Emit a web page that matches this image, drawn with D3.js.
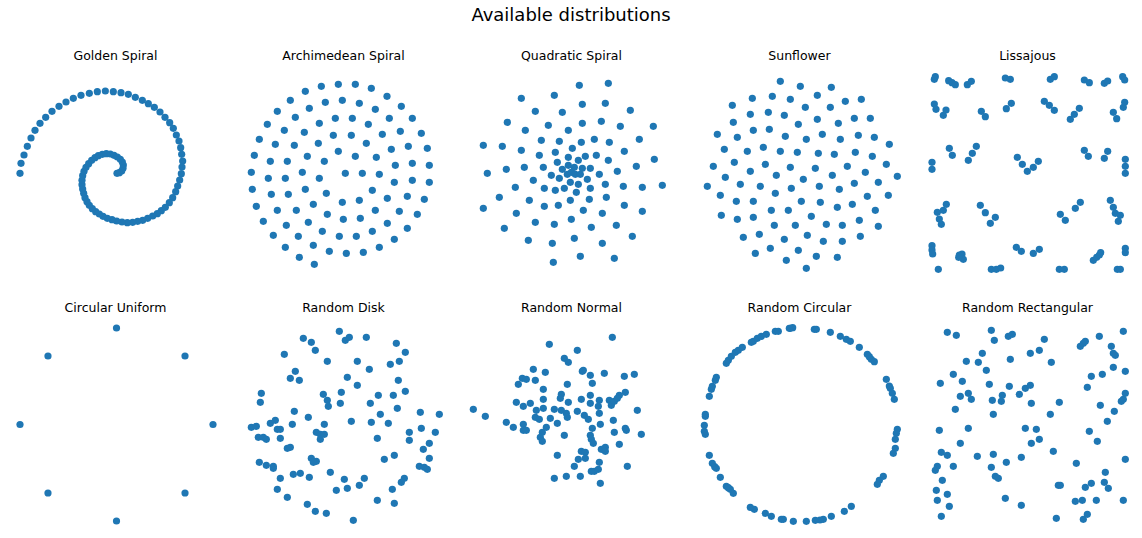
<!DOCTYPE html>
<html>
<head>
<meta charset="utf-8">
<script src="https://cdn.jsdelivr.net/npm/d3@7"></script>
<style>
	body{margin:0;background:#fff;}
	svg{display:block;}
</style>
</head>
<body>
<div id="chartDiv"></div>
<script>
// readings taken off the figure, in reading units (3 units = 1 px of the original)
var titulo="Available distributions";
var nombres=["Golden Spiral","Archimedean Spiral","Quadratic Spiral","Sunflower","Lissajous",
	"Circular Uniform","Random Disk","Random Normal","Random Circular","Random Rectangular"];

var goldenSpiral=[[30,295],[33,265],[42,240],[52,214],[63,189],[75,166],[90,145],[107,127],[126,109],[147,94],
	[168,81],[190,70],[213,61],[238,55],[262,50],[286,48],[310,50],[333,53],[355,58],[376,67],[397,76],[415,86],
	[433,97],[450,111],[465,127],[479,143],[490,160],[499,180],[507,198],[512,218],[515,238],[518,258],[516,276],
	[514,296],[509,315],[503,333],[497,350],[488,368],[478,383],[466,397],[454,407],[442,416],[428,423],[413,430],
	[398,436],[383,439],[368,442],[352,443],[336,441],[320,438],[306,434],[292,430],[279,424],[268,417],[257,410],
	[247,401],[238,391],[231,380],[225,368],[221,355],[218,342],[216,329],[216,316],[218,302],[222,289],[228,277],
	[236,266],[245,256],[255,248],[265,242],[277,238],[289,236],[301,237],[312,241],[322,246],[331,253],[337,261],
	[340,270],[339,280],[335,288],[328,293],[321,295]];

var archimedean=[[295,28],[346,28],[244,34],[394,40],[196,49],[441,64],[151,76],[256,82],[307,76],[358,85],
	[484,94],[112,109],[208,100],[406,103],[166,127],[286,130],[337,130],[448,130],[517,130],[82,148],[238,145],
	[385,148],[133,166],[193,172],[280,181],[334,181],[427,178],[481,169],[544,175],[58,193],[106,208],[163,211],
	[235,205],[379,205],[505,214],[454,223],[562,220],[43,241],[202,244],[295,229],[346,244],[409,247],[91,259],
	[142,259],[253,259],[466,271],[517,265],[568,271],[34,292],[187,292],[316,295],[367,295],[418,298],[85,310],
	[136,310],[238,310],[463,322],[517,316],[568,322],[37,343],[196,343],[397,346],[94,358],[145,358],[259,355],
	[442,370],[502,364],[553,373],[49,394],[220,388],[307,382],[358,376],[112,406],[169,406],[406,406],[478,409],
	[532,418],[70,439],[262,418],[310,433],[361,430],[139,451],[205,442],[442,445],[502,460],[100,481],[175,484],
	[247,469],[298,484],[349,484],[397,469],[136,517],[220,511],[418,517],[463,493],[178,547],[268,529],[319,535],
	[370,532],[223,568]];

var quadratic=[[322,31],[409,25],[148,70],[247,61],[331,88],[400,85],[475,106],[190,109],[271,112],[106,142],
	[229,151],[331,145],[388,139],[445,154],[544,154],[160,166],[289,166],[208,196],[262,199],[328,202],[367,193],
	[412,202],[502,193],[34,211],[91,214],[148,226],[301,220],[250,232],[202,241],[289,247],[319,256],[340,244],
	[373,241],[457,229],[547,253],[409,256],[256,262],[103,283],[157,277],[214,277],[271,283],[289,271],[307,277],
	[331,280],[355,280],[46,295],[238,301],[262,310],[286,298],[298,292],[310,298],[325,298],[346,313],[382,298],
	[436,289],[493,274],[184,316],[295,322],[319,328],[400,328],[454,334],[511,337],[571,331],[130,337],[217,340],
	[250,346],[277,340],[313,352],[355,340],[82,367],[172,376],[295,376],[352,373],[403,367],[34,400],[217,394],
	[259,391],[334,406],[391,415],[457,391],[511,409],[133,415],[190,442],[247,448],[298,433],[358,457],[433,451],
	[97,460],[169,496],[241,505],[307,490],[391,505],[481,484],[244,562],[325,544],[427,550]];

var sunflower=[[241,28],[301,43],[394,46],[157,79],[217,73],[271,82],[352,70],[436,88],[484,82],[97,100],
	[151,127],[205,121],[253,130],[316,106],[391,106],[100,151],[295,157],[352,142],[415,154],[463,139],[511,139],
	[52,187],[112,196],[160,175],[208,172],[256,193],[319,202],[367,187],[421,202],[475,190],[523,196],[568,217],
	[73,232],[142,238],[190,226],[241,238],[292,241],[355,244],[403,247],[466,241],[517,253],[40,283],[103,271],
	[151,298],[196,277],[271,286],[346,289],[442,283],[496,301],[559,277],[76,316],[121,337],[181,343],[229,310],
	[310,322],[397,310],[463,334],[535,331],[592,313],[22,343],[61,370],[109,388],[160,388],[226,364],[274,349],
	[358,343],[418,352],[304,388],[361,391],[412,406],[457,397],[502,373],[565,370],[64,430],[112,442],[160,436],
	[214,415],[265,415],[334,433],[526,415],[223,460],[286,460],[379,457],[427,460],[478,445],[535,463],[130,496],
	[178,487],[253,502],[322,490],[370,508],[427,508],[481,493],[166,544],[211,529],[295,535],[349,553],[412,556],
	[259,565],[319,589]];

var lissajous=[[25,28],[28,20],[68,32],[78,38],[88,44],[124,44],[136,34],[238,24],[253,28],[373,28],[385,20],
	[475,30],[490,38],[535,40],[545,33],[590,20],[596,30],[25,102],[30,118],[52,136],[60,120],[166,124],[178,140],
	[241,116],[256,100],[355,94],[370,106],[385,121],[433,148],[445,133],[460,115],[562,127],[572,146],[592,112],
	[596,97],[70,235],[79,256],[127,271],[139,250],[151,229],[18,277],[18,298],[274,262],[289,283],[304,304],
	[322,292],[337,274],[475,241],[487,259],[535,265],[545,244],[598,268],[598,289],[598,310],[34,427],[52,421],
	[61,403],[40,447],[46,463],[163,406],[178,428],[208,442],[193,460],[403,433],[418,451],[448,415],[463,397],
	[553,391],[562,412],[568,430],[583,436],[577,454],[18,527],[18,540],[20,552],[100,555],[108,552],[112,568],
	[98,562],[271,532],[286,544],[322,550],[340,538],[502,571],[512,562],[520,555],[524,548],[598,535],[598,548],
	[37,598],[196,598],[211,598],[224,594],[400,598],[415,598],[574,598],[583,598]];

// this one is in units of the circle radius
var circularUniform=[[1,0],[0.71,0.71],[0,1],[-0.71,0.71],[-1,0],[-0.71,-0.71],[0,-1],[0.71,-0.71]];

var randomDisk=[[298,28],[190,49],[214,61],[316,55],[328,46],[379,46],[469,64],[226,85],[133,97],[496,91],
	[262,118],[352,118],[451,127],[478,118],[388,142],[166,148],[151,169],[178,175],[322,166],[475,175],[352,190],
	[64,214],[250,217],[304,211],[415,220],[460,220],[496,208],[61,241],[262,235],[265,253],[301,244],[391,244],
	[472,259],[163,268],[421,277],[541,271],[598,277],[205,286],[334,298],[394,301],[445,304],[91,304],[106,295],
	[34,316],[49,313],[112,322],[121,322],[157,307],[253,307],[544,319],[508,331],[586,331],[229,331],[241,337],
	[253,337],[241,352],[55,346],[70,346],[79,352],[121,349],[412,349],[508,355],[568,364],[550,382],[142,379],
	[151,376],[214,409],[229,418],[220,421],[433,412],[463,400],[568,409],[58,421],[79,430],[100,433],[100,439],
	[538,433],[553,436],[562,442],[271,451],[121,469],[160,457],[181,454],[208,466],[313,472],[373,469],[493,469],
	[484,481],[112,502],[289,505],[322,499],[358,490],[457,502],[142,526],[412,535],[463,544],[202,547],[226,568],
	[259,574],[340,595]];

var randomNormal=[[445,22],[256,43],[340,61],[301,85],[313,97],[208,118],[244,127],[355,124],[358,121],[379,136],
	[421,130],[481,139],[511,133],[175,145],[187,148],[214,151],[163,163],[310,163],[385,160],[238,178],[292,193],
	[289,205],[379,196],[466,196],[484,187],[157,217],[178,229],[199,220],[238,208],[313,217],[352,208],[379,220],
	[406,211],[403,229],[436,211],[442,226],[451,214],[460,205],[217,241],[238,235],[271,238],[292,241],[307,250],
	[340,244],[361,256],[406,250],[520,241],[28,238],[64,259],[214,262],[226,268],[259,265],[310,262],[373,268],
	[448,271],[127,277],[280,280],[409,283],[148,292],[178,283],[178,301],[187,301],[247,292],[385,295],[451,307],
	[484,295],[487,301],[532,313],[235,307],[229,322],[235,334],[301,316],[379,316],[382,328],[388,340],[466,343],
	[412,358],[424,352],[424,364],[352,364],[364,367],[280,376],[343,388],[364,385],[406,397],[490,409],[331,409],
	[403,418],[391,424],[382,424],[271,445],[307,439],[349,439],[409,460]];

var randomCircular=[[283,25],[290,23],[355,28],[361,28],[403,37],[433,49],[451,58],[463,64],[490,82],[514,103],
	[520,110],[526,118],[535,125],[571,178],[580,198],[583,205],[589,220],[595,238],[604,328],[601,340],[598,358],
	[598,385],[592,400],[562,469],[550,481],[544,493],[466,559],[445,574],[406,589],[382,598],[372,600],[358,601],
	[331,604],[292,604],[262,598],[256,598],[226,589],[208,580],[175,568],[163,562],[112,520],[103,508],[97,503],
	[91,499],[73,472],[61,445],[56,440],[49,430],[40,406],[28,343],[25,334],[25,316],[28,289],[28,283],[40,229],
	[46,208],[49,199],[58,181],[61,172],[91,130],[97,121],[106,109],[118,97],[127,91],[139,82],[166,67],[172,64],
	[184,55],[196,49],[211,43],[238,34],[247,34],[280,25]];

var randomRect=[[64,31],[91,40],[196,25],[205,55],[247,43],[259,37],[355,52],[520,43],[592,28],[463,73],
	[472,64],[478,58],[556,73],[562,94],[568,100],[169,94],[121,118],[157,121],[253,112],[313,94],[340,85],
	[376,121],[181,145],[82,157],[43,184],[109,178],[190,187],[250,193],[298,199],[313,190],[280,217],[496,163],
	[529,157],[562,136],[598,148],[484,196],[103,223],[127,214],[136,232],[229,220],[226,238],[199,235],[316,244],
	[400,241],[598,214],[586,238],[592,232],[523,250],[565,268],[88,262],[202,277],[373,277],[544,298],[40,325],
	[127,319],[298,319],[331,322],[340,352],[316,364],[103,364],[490,328],[514,358],[46,391],[64,400],[154,403],
	[202,397],[241,421],[286,406],[382,388],[598,412],[34,433],[28,445],[82,433],[196,436],[208,463],[217,469],
	[451,424],[538,451],[49,475],[397,490],[403,490],[478,496],[496,484],[535,481],[547,499],[31,505],[64,517],
	[34,535],[238,529],[286,550],[448,538],[469,535],[511,535],[592,535],[70,553],[46,583],[391,589],[472,592],
	[484,577]];

var series=[goldenSpiral,archimedean,quadratic,sunflower,lissajous,
	circularUniform,randomDisk,randomNormal,randomCircular,randomRect];

function drawChart(){
	var width=1142,height=538;
	var color="#1f77b4";
	// where each reading window sits on the page [left, top, size in px]
	var ventanas=[[10,75,190],[240,75,200],[472,75,200],[700,72,204],[926,70,206],
		null,[240,322,208],[464,330,190],[696,320,208],[926,322,206]];

	d3.select("#chartDiv").html("");
	var svg=d3.select("#chartDiv").append("svg").attr("width",width).attr("height",height);

	svg.append("text")
		.attr("x",width/2).attr("y",21)
		.attr("text-anchor","middle")
		.attr("font-family","DejaVu Sans")
		.attr("font-size",18)
		.attr("fill","#000")
		.text(titulo);

	for(var idx=0;idx<series.length;idx++){
		var col=idx%5, row=Math.floor(idx/5);
		var cx=115+col*228;
		svg.append("text")
			.attr("x",cx+0.5).attr("y",row==0?60:312)
			.attr("text-anchor","middle")
			.attr("font-family","DejaVu Sans")
			.attr("font-size",12.5)
			.attr("fill","#000")
			.text(nombres[idx]);

		var x,y;
		if(ventanas[idx]==null){
			x=d3.scaleLinear().domain([-1,1]).range([20,213]);
			y=d3.scaleLinear().domain([-1,1]).range([521,328]);
		}else{
			var v=ventanas[idx];
			x=d3.scaleLinear().domain([0,v[2]*3]).range([v[0],v[0]+v[2]]);
			y=d3.scaleLinear().domain([0,v[2]*3]).range([v[1],v[1]+v[2]]);
		}
		svg.append("g").selectAll("circle")
			.data(series[idx])
			.enter()
			.append("circle")
			.attr("cx",function(d){return x(d[0]);})
			.attr("cy",function(d){return y(d[1]);})
			.attr("r",3.6)
			.style("fill",color);
	}
}
drawChart();
</script>
</body>
</html>
